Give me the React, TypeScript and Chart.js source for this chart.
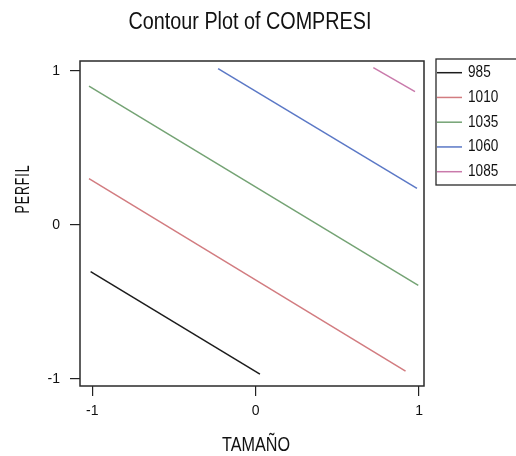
import React, { useEffect, useRef } from 'react';
import { Chart, registerables } from 'chart.js';

Chart.register(...registerables);

const TITLE = 'Contour Plot of COMPRESI';
const X_TITLE = 'TAMAÑO';
const Y_TITLE = 'PERFIL';
const LEVELS = ['985', '1010', '1035', '1060', '1085'];
const LEVEL_COLORS = ['#1c1c1c', '#d27c80', '#74a374', '#5b78c6', '#c97aab'];
const X_TICKS = [-1, 0, 1];
const Y_TICKS = [-1, 0, 1];

const C985_X = [-1.01, 0.026];
const C985_Y = [-0.305, -0.97];
const C1010_X = [-1.02, 0.917];
const C1010_Y = [0.299, -0.951];
const C1035_X = [-1.02, 0.995];
const C1035_Y = [0.9, -0.394];
const C1060_X = [-0.23, 0.987];
const C1060_Y = [1.013, 0.236];
const C1085_X = [0.72, 0.975];
const C1085_Y = [1.02, 0.864];

const CONTOURS_X = [C985_X, C1010_X, C1035_X, C1060_X, C1085_X];
const CONTOURS_Y = [C985_Y, C1010_Y, C1035_Y, C1060_Y, C1085_Y];

const FONT = '"Liberation Sans Narrow", "Liberation Sans", Arial, sans-serif';

function drawNarrowText(
  ctx: CanvasRenderingContext2D,
  text: string,
  x: number,
  y: number,
  size: number,
  sx: number,
  opts: { rotate?: number; align?: CanvasTextAlign; spacing?: number } = {}
) {
  ctx.save();
  ctx.translate(x, y);
  if (opts.rotate) ctx.rotate(opts.rotate);
  ctx.scale(sx, 1);
  ctx.font = `${size}px ${FONT}`;
  (ctx as any).letterSpacing = `${opts.spacing || 0}px`;
  ctx.textAlign = opts.align || 'center';
  ctx.textBaseline = 'middle';
  ctx.fillStyle = '#111';
  ctx.fillText(text, 0, 0);
  ctx.restore();
}

const framePlugin = {
  id: 'frame',
  afterDatasetsDraw(chart: any) {
    const { ctx, chartArea } = chart;
    ctx.save();
    ctx.strokeStyle = '#2a2a2a';
    ctx.lineWidth = 1.5;
    ctx.strokeRect(chartArea.left, chartArea.top, chartArea.right - chartArea.left, chartArea.bottom - chartArea.top);
    ctx.restore();
  },
};

const textPlugin = {
  id: 'texts',
  afterDraw(chart: any) {
    const { ctx } = chart;
    drawNarrowText(ctx, TITLE, 250, 23, 23, 0.86);
    drawNarrowText(ctx, X_TITLE, 256, 445, 20, 0.81);
    drawNarrowText(ctx, Y_TITLE, 23, 189, 20, 0.62, { rotate: -Math.PI / 2, spacing: 1.5 });
  },
};

const legendPlugin = {
  id: 'boxLegend',
  afterDraw(chart: any) {
    const { ctx } = chart;
    const left = 436;
    const top = 59;
    const bottom = 185;
    ctx.save();
    ctx.strokeStyle = '#2a2a2a';
    ctx.lineWidth = 1.3;
    ctx.strokeRect(left, top, 100, bottom - top);
    chart.data.datasets.forEach((ds: any, i: number) => {
      const y = 72.7 + i * 24.75;
      ctx.strokeStyle = ds.borderColor;
      ctx.lineWidth = 1.5;
      ctx.beginPath();
      ctx.moveTo(left + 1, y);
      ctx.lineTo(left + 26, y);
      ctx.stroke();
      drawNarrowText(ctx, ds.label, 468, y, 16, 0.85, { align: 'left' });
    });
    ctx.restore();
  },
};

export default function App() {
  const ref = useRef<HTMLCanvasElement | null>(null);
  useEffect(() => {
    if (!ref.current) return;
    const chart = new Chart(ref.current, {
      type: 'scatter',
      data: {
        datasets: LEVELS.map((lvl, i) => ({
          label: lvl,
          data: CONTOURS_X[i].map((x, j) => ({ x, y: CONTOURS_Y[i][j] })),
          showLine: true,
          borderColor: LEVEL_COLORS[i],
          backgroundColor: LEVEL_COLORS[i],
          borderWidth: 1.5,
          pointRadius: 0,
          tension: 0,
        })),
      },
      options: {
        responsive: false,
        animation: false,
        layout: { padding: { left: 0, right: 92, top: 61, bottom: 0 } },
        plugins: {
          legend: { display: false },
          tooltip: { enabled: false },
          title: { display: false },
        },
        scales: {
          x: {
            type: 'linear',
            min: -1.075,
            max: 1.03,
            afterFit: (s: any) => { s.height = 70; },
            afterBuildTicks: (s: any) => { s.ticks = X_TICKS.map((v) => ({ value: v })); },
            grid: { display: true, drawOnChartArea: false, drawTicks: true, tickLength: 10, color: '#222', lineWidth: 1.2 },
            border: { display: false },
            ticks: { color: '#111', font: { family: FONT, size: 14 }, padding: 7, callback: (v: any) => String(v) },
            title: { display: false },
          },
          y: {
            type: 'linear',
            min: -1.047,
            max: 1.063,
            afterFit: (s: any) => { s.width = 80; },
            afterBuildTicks: (s: any) => { s.ticks = Y_TICKS.map((v) => ({ value: v })); },
            grid: { display: true, drawOnChartArea: false, drawTicks: true, tickLength: 10, color: '#222', lineWidth: 1.2 },
            border: { display: false },
            ticks: { color: '#111', font: { family: FONT, size: 14 }, padding: 10, callback: (v: any) => String(v) },
            title: { display: false },
          },
        },
      },
      plugins: [framePlugin, legendPlugin, textPlugin],
    });
    return () => chart.destroy();
  }, []);
  return (
    <div style={{ position: 'fixed', left: 0, top: 0, width: 516, height: 456, background: '#fff' }}>
      <canvas ref={ref} width={516} height={456} />
    </div>
  );
}
